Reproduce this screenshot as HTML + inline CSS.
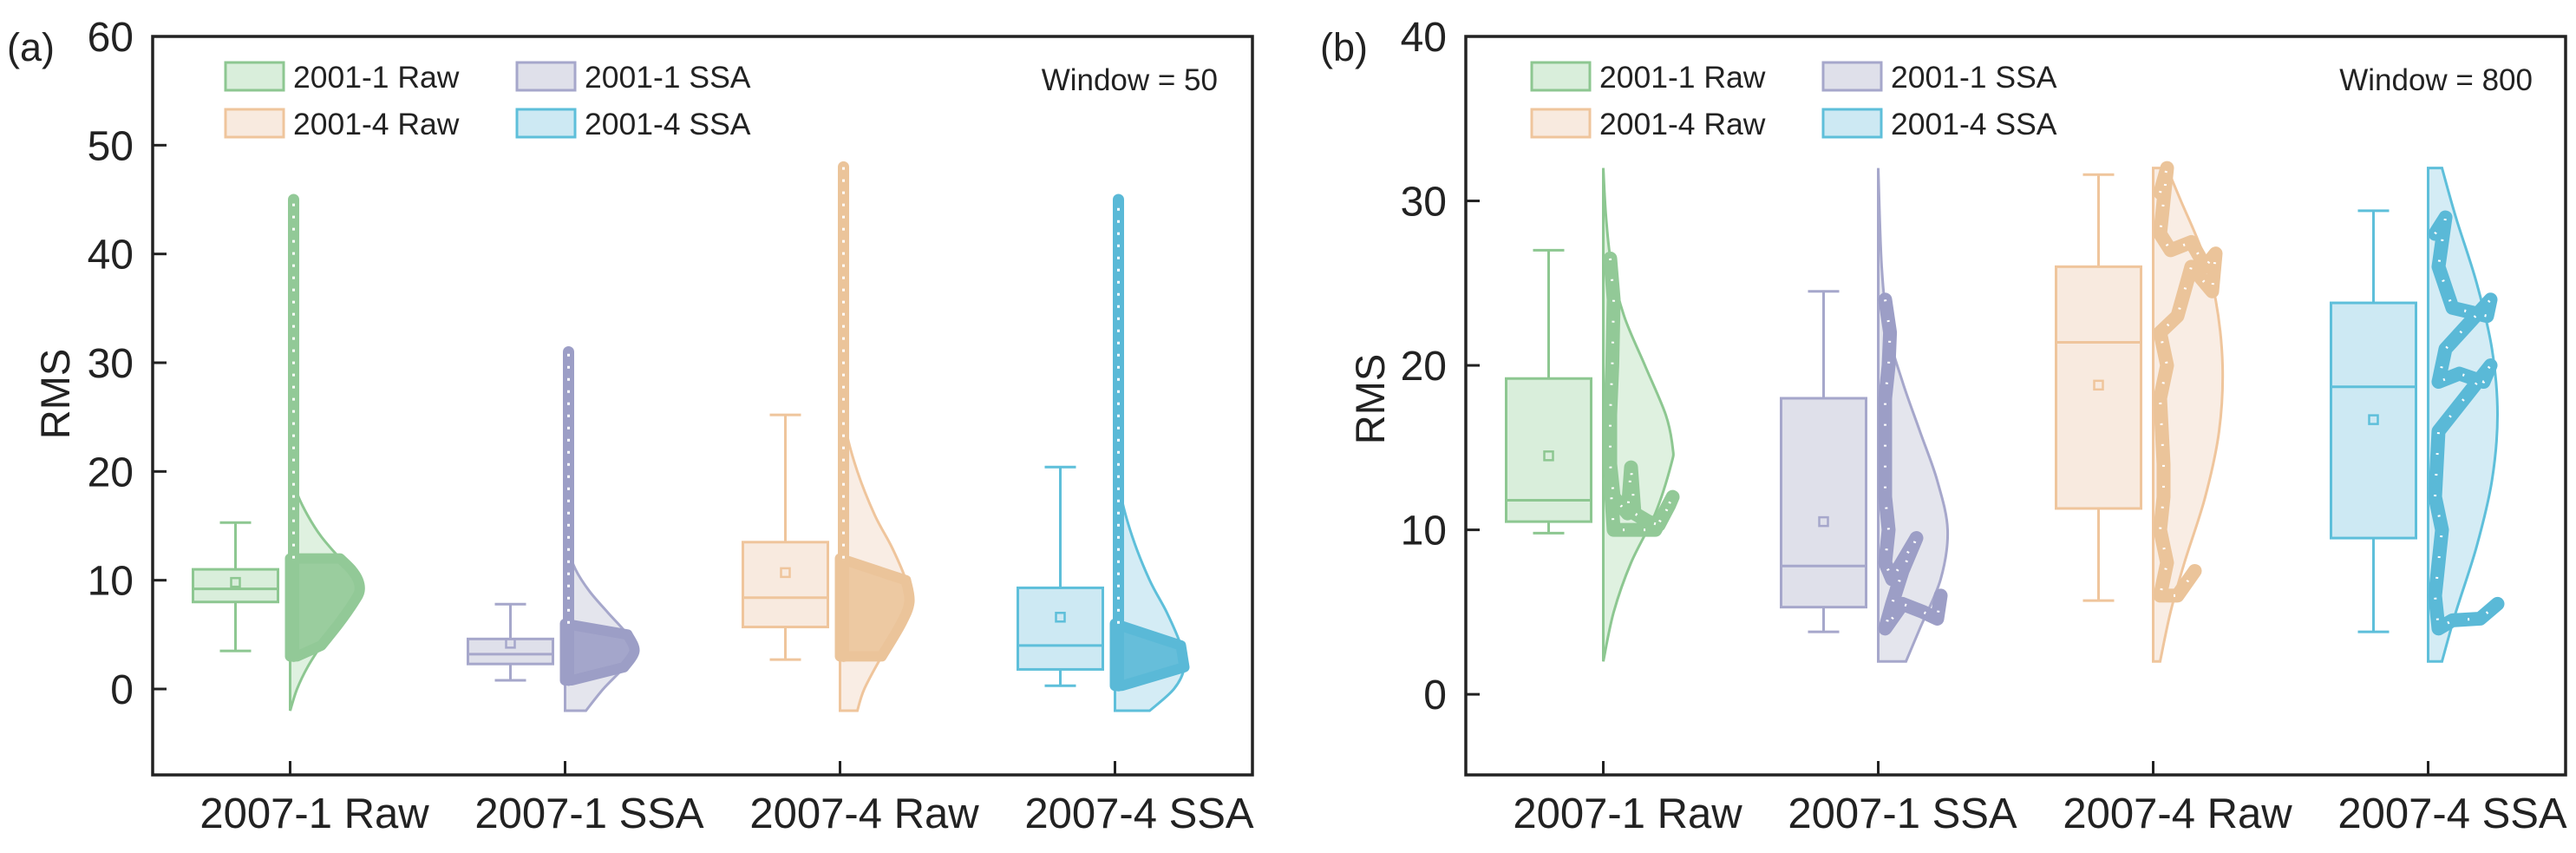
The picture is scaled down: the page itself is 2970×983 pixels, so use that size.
<!DOCTYPE html>
<html><head><meta charset="utf-8">
<style>
html,body{margin:0;padding:0;background:#fff;}
svg{display:block;font-family:"Liberation Sans",Arial,sans-serif;}
</style></head>
<body>
<svg id="chart" width="2970" height="983" viewBox="0 0 2970 983" xmlns="http://www.w3.org/2000/svg"></svg>
<script>
// ---------- DATA ----------
const categories = ['2007-1 Raw','2007-1 SSA','2007-4 Raw','2007-4 SSA'];
const legendLabels = ['2001-1 Raw','2001-4 Raw','2001-1 SSA','2001-4 SSA'];
const yTicksA = [0,10,20,30,40,50,60];
const yTicksB = [0,10,20,30,40];
// Panel a box stats
const aWhiskLo = [3.5, 0.8, 2.7, 0.3];
const aQ1      = [8.0, 2.3, 5.7, 1.8];
const aMedian  = [9.2, 3.2, 8.4, 4.0];
const aQ3      = [11.0, 4.6, 13.5, 9.3];
const aWhiskHi = [15.3, 7.8, 25.2, 20.4];
const aMean    = [9.8, 4.2, 10.7, 6.6];
// Panel a violins (y values, relative density)
const aViolinY = [
  [-2,0,2,4,6,8,9,10,11,12,14,16,18,20,22],
  [-2,0,2,3.5,5,7,9,11,13,15],
  [-2,0,3,6,8,10,13,16,20,24,28,32],
  [-2,0,2,4,7,10,14,18,22,25]
];
const aViolinD = [
  [0,0.1,0.25,0.45,0.7,0.92,1,0.98,0.88,0.72,0.45,0.25,0.1,0.03,0],
  [0.3,0.55,0.85,1,0.9,0.62,0.35,0.15,0.04,0],
  [0.25,0.35,0.6,0.88,1,0.95,0.75,0.5,0.25,0.08,0.02,0],
  [0.5,0.85,1,0.95,0.75,0.5,0.25,0.08,0.02,0]
];
// Panel a scatter: dense cluster range and tail maximum
const aPointMin = [3.0, 0.8, 3.0, 0.3];
const aClusterHi = [12, 6, 12, 6];
const aPointMax = [45, 31, 48, 45];
// Panel b box stats
const bWhiskLo = [9.8, 3.8, 5.7, 3.8];
const bQ1      = [10.5, 5.3, 11.3, 9.5];
const bMedian  = [11.8, 7.8, 21.4, 18.7];
const bQ3      = [19.2, 18.0, 26.0, 23.8];
const bWhiskHi = [27.0, 24.5, 31.6, 29.4];
const bMean    = [14.5, 10.5, 18.8, 16.7];
const bViolinY = [
  [2,5,8,11,14,15,17,20,23,26,29,32],
  [2,4,7,10,13,16,19,22,26,32],
  [2,5,8,12,16,20,24,27,30,32],
  [2,5,9,13,17,21,25,29,32]
];
const bViolinD = [
  [0,0.15,0.4,0.75,0.98,1,0.9,0.6,0.3,0.12,0.04,0],
  [0.4,0.6,0.9,1,0.85,0.6,0.35,0.15,0.05,0],
  [0.1,0.25,0.45,0.75,0.95,1,0.9,0.7,0.4,0.2],
  [0.2,0.4,0.7,0.92,1,0.92,0.7,0.4,0.2]
];
// Panel b point traces: RMS values and relative spread (fraction of violin width)
const bTraceY = [
  [26.5,24,20,17,14,12,11,13.8,11,10.5,10.3,11.5,12,10,10,13],
  [24,22,20,18,12,10,8,7,9.5,7.5,5.5,4,5.5,5,4.6,6],
  [30.5,32,28,27,27.5,26,26.8,24.5,26,23,22,20,18,14,12,10,8,6,6,7.5],
  [28,29,26,23.5,23,24,21,19,19.5,19,20,16,12,10,6,4,4.5,4.6,5.5]
];
const bTraceS = [
  [0.05,0.1,0.08,0.05,0.05,0.1,0.3,0.35,0.4,0.6,0.75,0.9,0.95,0.7,0.1,0.05],
  [0.05,0.12,0.1,0.05,0.05,0.1,0.05,0.15,0.5,0.3,0.15,0.05,0.3,0.6,0.8,0.85],
  [0.05,0.15,0.05,0.2,0.5,0.7,0.85,0.8,0.5,0.3,0.05,0.15,0.05,0.1,0.1,0.05,0.15,0.05,0.3,0.55],
  [0.05,0.2,0.1,0.3,0.8,0.85,0.2,0.1,0.4,0.75,0.85,0.1,0.05,0.15,0.05,0.1,0.3,0.7,0.95]
];

// ---------- STYLE ----------
const strokeC = ['#8dc791','#a6a7cb','#efc59c','#5ebfda'];
const fillC   = ['#d9eedb','#dfe0ea','#f8eadf','#cde9f3'];
const dotC    = ['#92c997','#9c9ec6','#ebc49a','#5ab9d7'];
const legendStroke = ['#8dc791','#efc59c','#a6a7cb','#5ebfda'];
const legendFill = ['#d9eedb','#f8eadf','#dfe0ea','#cde9f3'];

const svg = document.getElementById('chart');
const NS = 'http://www.w3.org/2000/svg';
function mk(tag, attrs, parent){
  const e = document.createElementNS(NS, tag);
  for (const k in attrs) e.setAttribute(k, attrs[k]);
  (parent||svg).appendChild(e);
  return e;
}
function smoothPath(pts){
  let d = 'M'+pts[0][0]+','+pts[0][1];
  for (let i=0;i<pts.length-1;i++){
    const p0=pts[Math.max(0,i-1)], p1=pts[i], p2=pts[i+1], p3=pts[Math.min(pts.length-1,i+2)];
    const c1=[p1[0]+(p2[0]-p0[0])/6, p1[1]+(p2[1]-p0[1])/6];
    const c2=[p2[0]-(p3[0]-p1[0])/6, p2[1]-(p3[1]-p1[1])/6];
    d += ' C'+c1[0]+','+c1[1]+' '+c2[0]+','+c2[1]+' '+p2[0]+','+p2[1];
  }
  return d;
}

function drawPanel(cfg){
  const g = mk('g', {});
  
  
  const yS = v => cfg.bottom - (v - cfg.ymin)/(cfg.ymax - cfg.ymin)*(cfg.bottom - cfg.top);
  const band = (cfg.right - cfg.left)/categories.length;
  const xS = i => cfg.left + band*(i+0.5);

  const fr = mk('rect', {x:cfg.left, y:cfg.top, width:cfg.right-cfg.left, height:cfg.bottom-cfg.top, fill:'none', stroke:'#222', 'stroke-width':3.5}, g);
  
  

  cfg.yTicks.forEach(t=>{
    const y = yS(t);
    const tk = mk('line', {x1:cfg.left, x2:cfg.left+16, y1:y, y2:y, stroke:'#222','stroke-width':3}, g);
    
    
    const tl = mk('text', {x:cfg.left-22, y:y+17, 'font-size':48, 'text-anchor':'end', fill:'#222'}, g);
    tl.textContent = t;
    
    
  });
  const yt = mk('text', {x:0,y:0,'font-size':47,'text-anchor':'middle',fill:'#222',transform:'translate('+cfg.ytx+','+cfg.yty+') rotate(-90)'}, g);
  yt.textContent = 'RMS';
  
  
  const pl = mk('text', {x:cfg.plx, y:70, 'font-size':45, fill:'#222'}, g);
  pl.textContent = '('+cfg.id+')';
  
  

  categories.forEach((c,i)=>{
    const cx = xS(i);
    const tk = mk('line', {x1:cx, x2:cx, y1:cfg.bottom, y2:cfg.bottom-16, stroke:'#222','stroke-width':3}, g);
    
    
    const xl = mk('text', {x:cx+28, y:954, 'font-size':49, 'text-anchor':'middle', fill:'#222'}, g);
    xl.textContent = c;
    
    

    const vy = cfg.vY[i], vd = cfg.vD[i];
    const right = vy.map((v,k)=>[cx + vd[k]*80, yS(v)]);
    let d = 'M'+cx+','+yS(vy[0])+' L'+right[0][0]+','+right[0][1]+' ' + smoothPath(right).replace(/^M[^ ]+/,'') + ' L'+cx+','+yS(vy[vy.length-1])+' Z';
    const vp = mk('path', {d:d, fill:fillC[i], 'fill-opacity':0.85, stroke:strokeC[i], 'stroke-width':3}, g);
    
    

    if (cfg.id==='a'){
      const lo = aPointMin[i], hi = aClusterHi[i];
      const pts = [];
      vy.forEach((v,k)=>{ if (v>=lo && v<=hi) pts.push([cx + vd[k]*80, yS(v)]); });
      const cl = mk('path', {d:'M'+cx+','+yS(lo)+' L'+(cx+8)+','+yS(lo)+' '+smoothPath(pts).replace(/^M/,'L')+' L'+cx+','+yS(hi)+' Z', fill:dotC[i], 'fill-opacity':0.9, stroke:dotC[i], 'stroke-width':12,'stroke-linejoin':'round'}, g);
      
      
      const col = mk('line', {x1:cx+4, x2:cx+4, y1:yS(lo), y2:yS(aPointMax[i]), stroke:dotC[i], 'stroke-width':13, 'stroke-linecap':'round'}, g);
      
      
      const wd = mk('line', {x1:cx+4, x2:cx+4, y1:yS(hi), y2:yS(aPointMax[i]), stroke:'#fff', 'stroke-width':3, 'stroke-dasharray':'3 11'}, g);
      
      
    } else {
      const pts = bTraceY[i].map((v,k)=>(cx+4+bTraceS[i][k]*80)+','+yS(v)).join(' ');
      const tr = mk('polyline', {points:pts, fill:'none', stroke:dotC[i], 'stroke-width':16, 'stroke-linejoin':'round','stroke-linecap':'round'}, g);
      
      
      const tw = mk('polyline', {points:pts, fill:'none', stroke:'#fff', 'stroke-width':3, 'stroke-dasharray':'2 22'}, g);
      
      
    }

    const bx = cx - 63;
    const wl = mk('line', {x1:bx, x2:bx, y1:yS(cfg.wLo[i]), y2:yS(cfg.wHi[i]), stroke:strokeC[i], 'stroke-width':3}, g);
    
    
    [cfg.wLo[i], cfg.wHi[i]].forEach(v=>{
      const cap = mk('line', {x1:bx-18, x2:bx+18, y1:yS(v), y2:yS(v), stroke:strokeC[i], 'stroke-width':3}, g);
      
      
    });
    const bxr = mk('rect', {x:bx-49, y:yS(cfg.q3[i]), width:98, height:yS(cfg.q1[i])-yS(cfg.q3[i]), fill:fillC[i], stroke:strokeC[i], 'stroke-width':3}, g);
    
    
    const md = mk('line', {x1:bx-49, x2:bx+49, y1:yS(cfg.med[i]), y2:yS(cfg.med[i]), stroke:strokeC[i], 'stroke-width':3}, g);
    
    
    const mn = mk('rect', {x:bx-5, y:yS(cfg.mean[i])-5, width:10, height:10, fill:'none', stroke:strokeC[i], 'stroke-width':2.5}, g);
    
    
  });

  legendLabels.forEach((lab,k)=>{
    const col = Math.floor(k/2), row = k%2;
    const lx = cfg.legX + col*336, ly = 72 + row*54;
    const lg = mk('g', {}, g);
    
    
    mk('rect', {x:lx, y:ly, width:67, height:32, fill:legendFill[k], stroke:legendStroke[k], 'stroke-width':3}, lg);
    const t = mk('text', {x:lx+78, y:ly+29, 'font-size':35.5, fill:'#222'}, lg);
    t.textContent = lab;
  });
  const wt = mk('text', {x:cfg.winX, y:104, 'font-size':35, 'text-anchor':'end', fill:'#222'}, g);
  wt.textContent = cfg.winText;
  
  
}

drawPanel({id:'a', left:176, right:1444, top:42, bottom:893, ymin:-7.9, ymax:60, yTicks:yTicksA,
  ytx:80, yty:454, plx:8, legX:260, winX:1404, winText:'Window = 50',
  vY:aViolinY, vD:aViolinD, wLo:aWhiskLo, q1:aQ1, med:aMedian, q3:aQ3, wHi:aWhiskHi, mean:aMean});
drawPanel({id:'b', left:1690, right:2958, top:42, bottom:893, ymin:-4.9, ymax:40, yTicks:yTicksB,
  ytx:1596, yty:460, plx:1522, legX:1766, winX:2920, winText:'Window = 800',
  vY:bViolinY, vD:bViolinD, wLo:bWhiskLo, q1:bQ1, med:bMedian, q3:bQ3, wHi:bWhiskHi, mean:bMean});
</script>
</body></html>
